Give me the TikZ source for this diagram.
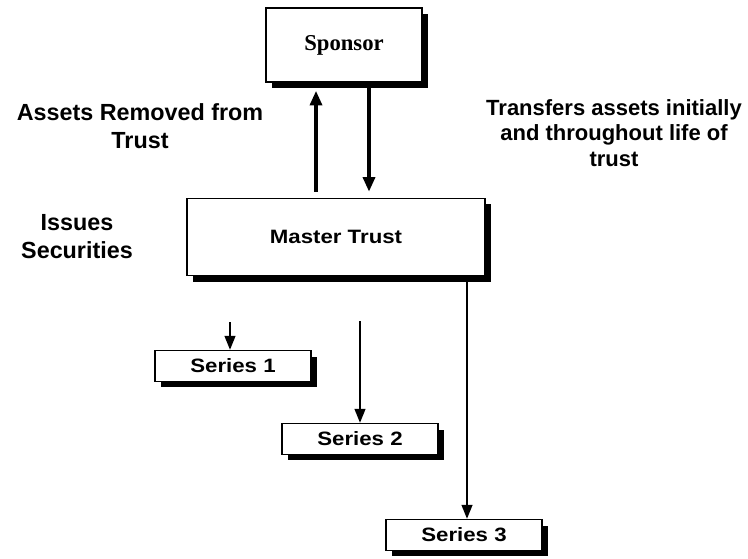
\documentclass[tikz,border=0pt]{standalone}
\usepackage{fontspec}
\setmainfont{Liberation Serif}
\setsansfont{Liberation Sans}
\newfontfamily\boxfont[FakeStretch=1.15]{Liberation Sans}
\usetikzlibrary{arrows.meta,shadows}

\begin{document}
\begin{tikzpicture}[x=0.75pt,y=-0.75pt,
    box/.style={draw,line width=1.2pt,fill=white,inner sep=0pt,
      drop shadow={shadow xshift=4.5pt,shadow yshift=-4.5pt,fill=black,opacity=1}},
    serbox/.style={box,minimum width=117pt,minimum height=23pt,
      font=\boxfont\bfseries\fontsize{14.5}{17}\selectfont},
    lbl/.style={align=center,font=\sffamily\bfseries\fontsize{17.5}{21}\selectfont},
    flow/.style={line width=2.6pt,-{Triangle[length=11pt,width=9pt]}},
    feed/.style={line width=1.6pt,-{Triangle[length=10.5pt,width=8pt]}}]

    \useasboundingbox(0,0)rectangle(748,559);

    \node[box,minimum width=117pt,minimum height=55.5pt,
      font=\rmfamily\bfseries\fontsize{17}{20}\selectfont](sponsor)at(344,45){Sponsor};
    \node[box,minimum width=223.5pt,minimum height=57.75pt,
      font=\boxfont\bfseries\fontsize{14.5}{17}\selectfont](trust)at(336,237){Master Trust};
    \foreach\i/\x/\y in{1/233/366,2/360/439,3/464/535}\node[serbox](ser\i)at(\x,\y){Series \i};

    \node[lbl](removed)at(140,126){Assets Removed from\\Trust};
    \node[lbl,font=\sffamily\bfseries\fontsize{16.5}{19}\selectfont](transfers)at(614,133){Transfers assets initially\\and throughout life of\\trust};
    \node[lbl](issues)at(77,237){Issues\\Securities};

    \coordinate(up)at(316,0);
    \coordinate(down)at(369,0);
    \coordinate(s1)at(230,322);
    \coordinate(s2)at(360,321);
    \coordinate(s3)at(467,0);

    \draw[flow,shorten <=4.5pt,shorten >=6pt](trust.north -| up)--(sponsor.south -| up);
    \draw[flow,shorten >=4.5pt](sponsor.south -| down)--(trust.north -| down);
    \foreach\i in{1,2}\draw[feed](s\i)--(s\i |- ser\i.north);
    \draw[feed](trust.south -| s3)--(ser3.north -| s3);
  \end{tikzpicture}
\end{document}
